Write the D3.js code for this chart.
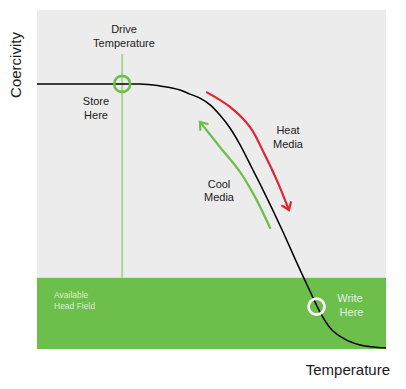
<!DOCTYPE html>
<html>
<head>
<meta charset="utf-8">
<script src="https://cdn.jsdelivr.net/npm/d3@7"></script>
<style>
  html, body { margin: 0; padding: 0; background: #ffffff; }
  svg { display: block; font-family: "Liberation Sans", Arial, sans-serif; }
</style>
</head>
<body>
<svg id="chart" width="406" height="389"></svg>
<script>
// ---- data (temperature 0-100, coercivity 0-100; arbitrary units) ----
const curveTemp  = [0, 29.5, 35.2, 41.0, 43.8, 46.7, 49.6, 52.4, 55.3, 58.2, 61.0, 63.9, 70.5, 74.2, 78.2, 81.1, 84.0, 87.7, 92.6, 100];
const curveCoerc = [78.2, 78.2, 77.6, 76.4, 75.2, 74.0, 72.0, 69.0, 65.2, 60.2, 54.6, 48.7, 34.5, 26.0, 17.1, 10.9, 6.2, 3.2, 1.2, 0.3];
const headField = 21;
const driveTemp = 24.4;
const driveLineTop = 87;
const storePoint = [24.4, 78.2];
const writePoint = [80.1, 12.5];
const heatArrowTemp  = [48.7, 55.3, 61.0, 65.3, 68.8, 72.2];
const heatArrowCoerc = [75.7, 71.4, 65.5, 57.2, 49.6, 41.0];
const coolArrowTemp  = [66.8, 62.5, 58.2, 52.4, 46.7];
const coolArrowCoerc = [35.7, 44.8, 52.2, 59.6, 67.0];
const axisLabels = { x: "Temperature", y: "Coercivity" };

// ---- layout ----
const svg = d3.select("#chart");
const mLeft = 37, mRight = 386, mTop = 10, mBottom = 349;
const x = d3.scaleLinear().domain([0, 100]).range([mLeft, mRight]);
const y = d3.scaleLinear().domain([0, 100]).range([mBottom, mTop]);

const GREEN = "#6cbf4a", LIGHTGREEN = "#a9d691", RED = "#e3232f", TEXT = "#1a1a1a";

// background panel
svg.append("rect").attr("x", x(0)).attr("y", y(100))
  .attr("width", x(100) - x(0)).attr("height", y(0) - y(100)).attr("fill", "#ececec");
// head field band
svg.append("rect").attr("x", x(0)).attr("y", y(headField))
  .attr("width", x(100) - x(0)).attr("height", y(0) - y(headField)).attr("fill", GREEN);

// drive temperature line
svg.append("line").attr("x1", x(driveTemp)).attr("x2", x(driveTemp))
  .attr("y1", y(driveLineTop)).attr("y2", y(headField))
  .attr("stroke", LIGHTGREEN).attr("stroke-width", 2);

// curve
const pts = curveTemp.map((t, i) => [t, curveCoerc[i]]);
const line = d3.line().x(d => x(d[0])).y(d => y(d[1])).curve(d3.curveMonotoneX);
svg.append("path").attr("d", line(pts)).attr("fill", "none")
  .attr("stroke", "#000").attr("stroke-width", 1.5);

// arrows
function arrow(ts, cs, color) {
  const p = ts.map((t, i) => [t, cs[i]]);
  const l = d3.line().x(d => x(d[0])).y(d => y(d[1])).curve(d3.curveCatmullRom);
  svg.append("path").attr("d", l(p)).attr("fill", "none")
    .attr("stroke", color).attr("stroke-width", 2.2).attr("stroke-linecap", "round");
  const a = p[p.length - 2], b = p[p.length - 1];
  const bx = x(b[0]), by = y(b[1]);
  const ang = Math.atan2(by - y(a[1]), bx - x(a[0]));
  const len = 8, spread = Math.PI / 5;
  const h = [ang + Math.PI - spread, ang + Math.PI + spread]
    .map(q => [bx + len * Math.cos(q), by + len * Math.sin(q)]);
  svg.append("path")
    .attr("d", `M${h[0][0]},${h[0][1]}L${bx},${by}L${h[1][0]},${h[1][1]}`)
    .attr("fill", "none").attr("stroke", color).attr("stroke-width", 2.2)
    .attr("stroke-linecap", "round").attr("stroke-linejoin", "miter");
}
arrow(heatArrowTemp, heatArrowCoerc, RED);
arrow(coolArrowTemp, coolArrowCoerc, GREEN);

// circles
svg.append("circle").attr("cx", x(storePoint[0])).attr("cy", y(storePoint[1])).attr("r", 8)
  .attr("fill", "none").attr("stroke", GREEN).attr("stroke-width", 2.6);
svg.append("circle").attr("cx", x(writePoint[0])).attr("cy", y(writePoint[1])).attr("r", 8)
  .attr("fill", "none").attr("stroke", "#ffffff").attr("stroke-width", 2.6);

// text helpers
function label(lines, cx, baseline, opts = {}) {
  const t = svg.append("text")
    .attr("text-anchor", opts.anchor || "middle")
    .attr("font-size", opts.size || 11)
    .attr("fill", opts.color || TEXT);
  lines.forEach((s, i) => {
    t.append("tspan").attr("x", cx).attr("y", baseline + i * (opts.lh || 13.5)).text(s);
  });
}
label(["Drive", "Temperature"], 124, 33);
label(["Store", "Here"], 96, 105);
label(["Heat", "Media"], 288, 134);
label(["Cool", "Media"], 219, 187.5);
label(["Available", "Head Field"], 54, 298, { anchor: "start", size: 8.5, color: "#dbeecf", lh: 11 });
label(["Write", " Here"], 350, 302, { size: 11, color: "#e3f1e6", lh: 14 });

// axis titles
svg.append("text").attr("x", 390).attr("y", 375).attr("text-anchor", "end")
  .attr("font-size", 15).attr("fill", TEXT).text(axisLabels.x);
svg.append("text").attr("transform", "translate(21,65) rotate(-90)")
  .attr("text-anchor", "middle").attr("font-size", 15).attr("fill", TEXT).text(axisLabels.y);
</script>
</body>
</html>
